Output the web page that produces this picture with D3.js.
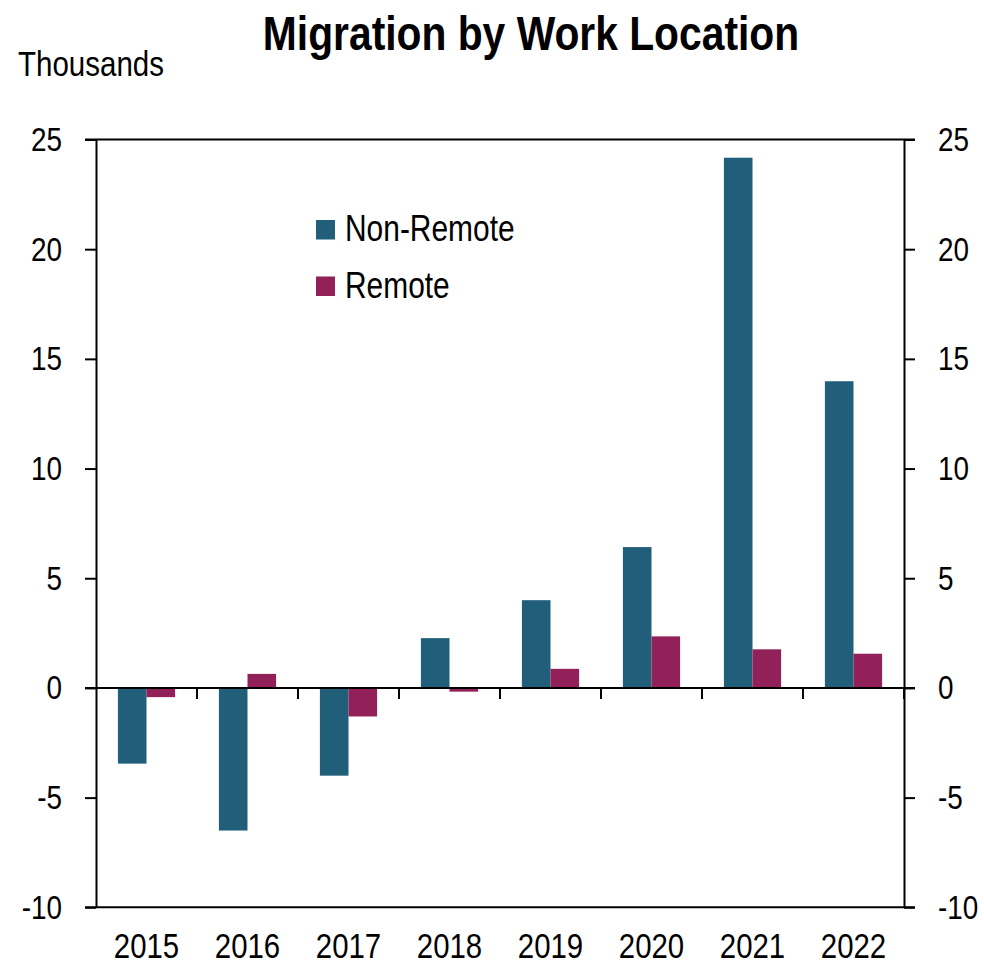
<!DOCTYPE html>
<html>
<head>
<meta charset="utf-8">
<script src="https://cdn.jsdelivr.net/npm/d3@7"></script>
<style>
  body { margin: 0; background: #fff; }
  svg text { font-family: "Liberation Sans Narrow", "Arial Narrow", "Liberation Sans", Arial, sans-serif; fill: #000; }
</style>
</head>
<body>
<svg id="chart" width="984" height="966"></svg>
<script>
const years = ["2015", "2016", "2017", "2018", "2019", "2020", "2021", "2022"];
const nonRemote = [-3.45, -6.5, -4.0, 2.27, 4.0, 6.42, 24.17, 13.98];
const remote = [-0.42, 0.64, -1.3, -0.17, 0.87, 2.35, 1.76, 1.56];
const seriesNames = ["Non-Remote", "Remote"];
const seriesColors = ["#215E79", "#92215A"];
const yTicks = [-10, -5, 0, 5, 10, 15, 20, 25];

(function () {
const svg = d3.select("#chart");
const mLeft = 96, mRight = 904, mTop = 139.5, mBottom = 907.3;
const SX = 0.82; // horizontal squeeze to imitate a narrow face

function narrow(sel, s) {
  sel.each(function () {
    const t = d3.select(this);
    const tx = +t.attr("x") || 0, ty = +t.attr("y") || 0;
    t.attr("transform", `translate(${tx},${ty}) scale(${s},1)`).attr("x", 0).attr("y", 0);
  });
}

const x = d3.scaleBand().domain(years).range([mLeft, mRight]).padding(0);
const y = d3.scaleLinear().domain([-10, 25]).range([mBottom, mTop]);
const barW = 28.6;

const data = years.map((yr, i) => ({ year: yr, vals: [nonRemote[i], remote[i]] }));

// bars
const g = svg.append("g");
data.forEach(d => {
  d.vals.forEach((v, k) => {
    const cx = x(d.year) + x.bandwidth() / 2;
    g.append("rect")
      .attr("x", k === 0 ? cx - barW : cx)
      .attr("width", barW)
      .attr("y", Math.min(y(v), y(0)))
      .attr("height", Math.abs(y(v) - y(0)))
      .attr("fill", seriesColors[k]);
  });
});

const fmt = d => String(d);
// left axis
const yl = svg.append("g").attr("transform", `translate(${mLeft},0)`)
  .call(d3.axisLeft(y).tickValues(yTicks).tickFormat(fmt).tickSize(11).tickSizeOuter(0).tickPadding(23));
// right axis
const yr = svg.append("g").attr("transform", `translate(${mRight},0)`)
  .call(d3.axisRight(y).tickValues(yTicks).tickFormat(fmt).tickSize(11).tickSizeOuter(0).tickPadding(23));
[yl, yr].forEach(a => {
  a.attr("font-family", null);
  a.selectAll("path.domain").attr("stroke", "#000").attr("stroke-width", 2);
  a.selectAll(".tick line").attr("stroke", "#000").attr("stroke-width", 2);
  a.selectAll(".tick text").attr("font-size", 34).call(narrow, SX);
});

// top and bottom frame lines
[25, -10].forEach(v => {
  svg.append("line").attr("x1", mLeft - 11).attr("x2", mRight + 11)
    .attr("y1", y(v)).attr("y2", y(v)).attr("stroke", "#000").attr("stroke-width", 2);
});

// zero line with category ticks
const xa = svg.append("g").attr("transform", `translate(0,${y(0)})`);
xa.append("line").attr("x1", mLeft - 11).attr("x2", mRight + 11)
  .attr("stroke", "#000").attr("stroke-width", 2);
years.forEach(yr0 => {
  const bx = x(yr0) + x.bandwidth();
  xa.append("line").attr("x1", bx).attr("x2", bx).attr("y1", 0).attr("y2", 11)
    .attr("stroke", "#000").attr("stroke-width", 2);
});

// x category labels at bottom
const xb = svg.append("g").attr("transform", `translate(0,${mBottom})`)
  .call(d3.axisBottom(x).tickSize(0).tickPadding(0));
xb.attr("font-family", null);
xb.select("path.domain").remove();
xb.selectAll(".tick text").attr("font-size", 35).attr("dy", null).attr("y", 51)
  .call(narrow, 0.84);

// title
svg.append("text").attr("x", 531).attr("y", 50).attr("text-anchor", "middle")
  .attr("font-size", 48).attr("font-weight", "bold").text("Migration by Work Location")
  .call(narrow, 0.85);
svg.append("text").attr("x", 18).attr("y", 76).attr("font-size", 36).text("Thousands")
  .call(narrow, SX);

// legend
const lg = svg.append("g").attr("transform", "translate(316,220)");
seriesNames.forEach((n, i) => {
  lg.append("rect").attr("x", 0).attr("y", i * 56.5).attr("width", 19).attr("height", 19.5)
    .attr("fill", seriesColors[i]);
  lg.append("text").attr("x", 29).attr("y", i * 56.5 + 21).attr("font-size", 36.5).text(n)
    .call(narrow, SX);
});
})();
</script>
</body>
</html>
